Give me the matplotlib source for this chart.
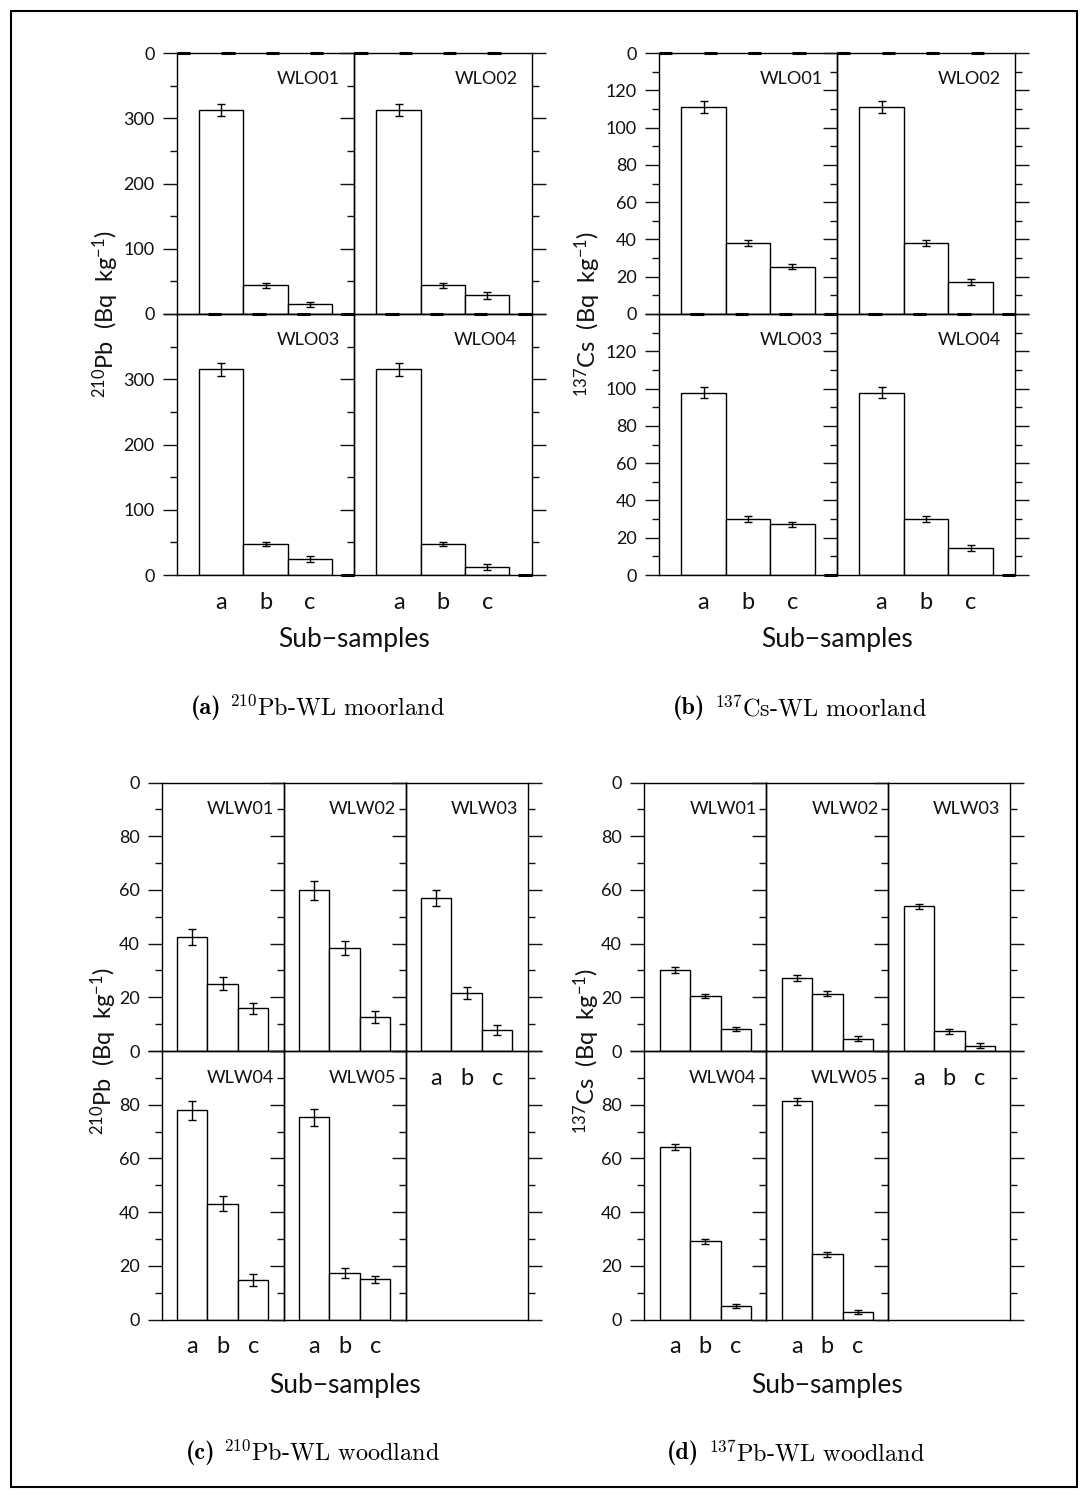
import matplotlib
matplotlib.use("Agg")
import matplotlib.pyplot as plt
from matplotlib.ticker import MultipleLocator, FixedLocator
from matplotlib.patches import Rectangle

plt.rcParams.update({
    "font.family": ["Lato", "DejaVu Sans"],
    "font.weight": "normal",
    "mathtext.fontset": "custom",
    "mathtext.rm": "Lato",
    "mathtext.it": "Lato",
    "axes.linewidth": 1.0,
    "text.color": "#111111",
    "xtick.color": "#111111",
    "ytick.color": "#111111",
})

# ---- data ----
subs = ["a", "b", "c"]

moor_names = ["WLO01", "WLO02", "WLO03", "WLO04"]
pb_moor = [[313, 44, 15], [313, 44, 28.5], [315, 47.5, 25], [315, 47.5, 12]]
pb_moor_err = [[9, 3.5, 3.8], [9, 3.5, 5], [9.5, 3.8, 4.6], [9.5, 3.8, 5]]
cs_moor = [[111.2, 38.2, 25.4], [111.2, 38.2, 17.0], [97.7, 30.0, 27.1], [97.7, 30.0, 14.6]]
cs_moor_err = [[3.2, 1.6, 1.4], [3.2, 1.6, 1.6], [3.0, 1.8, 1.4], [3.0, 1.8, 1.6]]

wood_names = ["WLW01", "WLW02", "WLW03", "WLW04", "WLW05"]
pb_wood = [[42.5, 25.0, 15.9], [59.9, 38.3, 12.8], [57.0, 21.6, 7.8],
           [77.9, 43.2, 14.6], [75.3, 17.3, 14.9]]
pb_wood_err = [[3.1, 2.4, 2.0], [3.5, 2.7, 2.2], [3.1, 2.2, 2.0],
               [3.6, 2.7, 2.2], [3.1, 2.0, 1.2]]
cs_wood = [[30.2, 20.5, 8.2], [27.2, 21.4, 4.6], [53.9, 7.3, 1.9],
           [64.3, 29.2, 5.0], [81.2, 24.3, 2.8]]
cs_wood_err = [[1.0, 0.9, 0.9], [1.0, 0.9, 0.9], [1.0, 0.9, 0.9],
               [1.0, 0.9, 0.9], [1.2, 0.9, 0.9]]

W, H = 1080, 1495
fig = plt.figure(figsize=(W / 100, H / 100), dpi=100)

def px_axes(l, t, w, h):
    return fig.add_axes([l / W, 1 - (t + h) / H, w / W, h / H])

def panel(left, top, cw, rh, ncol, names, vals, errs, ymax, major, minor,
          ylabel, ylab_x, xlab_y, dashes=False, tickfs=13):
    n = len(names)
    nrow = 2
    for r in range(nrow):
        for c in range(ncol):
            k = r * ncol + c
            ax = px_axes(left + c * cw, top + r * rh, cw, rh)
            ax.patch.set_alpha(0)
            ax.set_xlim(0, 4)
            ax.set_ylim(0, ymax)
            if k < n:
                x = [1, 2, 3]
                ax.bar(x, vals[k], width=1.0, color="white", edgecolor="black",
                       linewidth=1.0, zorder=2)
                ax.errorbar(x, vals[k], yerr=errs[k], fmt="none", ecolor="black",
                            elinewidth=1.0, capsize=3, capthick=1.0, zorder=3)
                ax.text(0.92, 0.90, names[k], transform=ax.transAxes, ha="right",
                        va="center", fontsize=tickfs)
            if dashes:
                # heavy dash marks that the original plotting program left on the frame
                tr = ax.get_xaxis_transform()
                segs = []
                if r == 0:
                    segs += [((s, s + 0.3), 1) for s in range(4)]
                    segs += [((s - 0.3, s), 0) for s in range(1, 5)]
                else:
                    segs += [((3.7, 4.0), 0)]
                for xs, yy in segs:
                    ax.plot(xs, [yy, yy], color="black", lw=2.2, transform=tr,
                            clip_on=False, zorder=4, solid_capstyle="butt")
            # x tick labels where no panel lies beneath
            below = k + ncol
            show_x = k < n and (r == nrow - 1 or below >= n)
            ax.set_xticks([1, 2, 3])
            ax.set_xticklabels(subs if show_x else [])
            ax.tick_params(axis="x", length=0, pad=12, labelsize=17)
            # y ticks
            ticks = list(range(0, ymax + 1, major))
            ax.yaxis.set_major_locator(FixedLocator(ticks))
            ax.yaxis.set_minor_locator(MultipleLocator(minor))
            labs = [str(t) for t in ticks]
            labs[-1] = "0"
            if r > 0:
                labs[-1] = ""
            ax.set_yticklabels(labs if c == 0 else [""] * len(ticks))
            ax.tick_params(axis="y", which="major", direction="out", length=10,
                           width=1.0, labelsize=tickfs, pad=6,
                           right=(c == ncol - 1))
            ax.tick_params(axis="y", which="minor", direction="out", length=5,
                           width=1.0, right=(c == ncol - 1))
    # y label and x label for the group
    fig.text(ylab_x / W, 1 - (top + rh) / H, ylabel, rotation=90,
             ha="center", va="center", fontsize=17)
    fig.text((left + ncol * cw / 2) / W, 1 - xlab_y / H, "Sub\u2212samples",
             ha="center", va="center", fontsize=19)

ylab_pb = r"$^{210}$Pb  (Bq  kg$^{-1}$)"
ylab_cs = r"$^{137}$Cs  (Bq  kg$^{-1}$)"

panel(177, 53, 177.3, 261, 2, moor_names, pb_moor, pb_moor_err, 400, 100, 50,
      ylab_pb, 106, 639, dashes=True)
panel(659, 53, 178, 261, 2, moor_names, cs_moor, cs_moor_err, 140, 20, 10,
      ylab_cs, 588, 639, dashes=True)
panel(161.7, 782.5, 122, 268.5, 3, wood_names, pb_wood, pb_wood_err, 100, 20, 10,
      ylab_pb, 104, 1385)
panel(644.3, 782.5, 122, 268.5, 3, wood_names, cs_wood, cs_wood_err, 100, 20, 10,
      ylab_cs, 587, 1385)

# captions
caps = [(318, 708, "(a)", r" $^{210}$Pb-WL moorland"),
        (800, 708, "(b)", r" $^{137}$Cs-WL moorland"),
        (313, 1453, "(c)", r" $^{210}$Pb-WL woodland"),
        (796, 1453, "(d)", r" $^{137}$Pb-WL woodland")]
r = fig.canvas.get_renderer()
for cx, cy, tag, rest in caps:
    t1 = fig.text(0, 1 - cy / H, tag, fontfamily="cmb10", fontsize=17.5,
                  ha="left", va="center", color="black")
    t2 = fig.text(0, 1 - cy / H, rest, fontfamily="cmr10", fontsize=17.5,
                  math_fontfamily="cm", ha="left", va="center", color="black")
    w1 = t1.get_window_extent(r).width
    w2 = t2.get_window_extent(r).width
    x0 = cx - (w1 + w2) / 2
    t1.set_x(x0 / W)
    t2.set_x((x0 + w1) / W)

fig.patches.append(Rectangle((11 / W, 8 / H), (W - 14) / W, (H - 19) / H,
                             transform=fig.transFigure, fill=False,
                             edgecolor="black", linewidth=1.5))

fig.savefig("out.png", dpi=100)
